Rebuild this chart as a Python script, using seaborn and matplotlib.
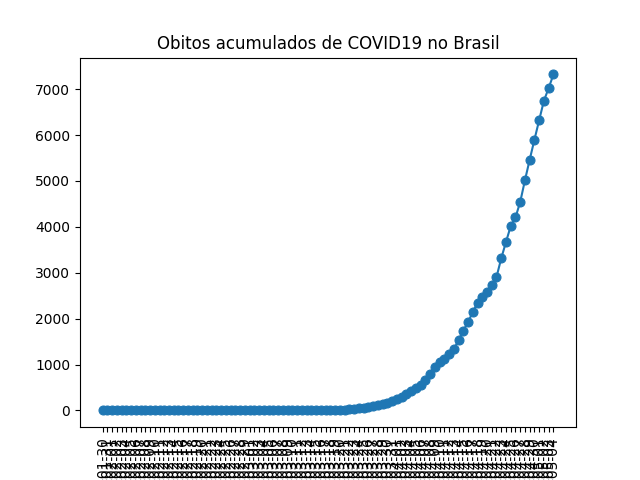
import datetime as dt

import matplotlib
matplotlib.use("Agg")
import matplotlib.pyplot as plt
import seaborn as sns

# daily dates from 2020-01-30 to 2020-05-04 (Ministerio da Saude file)
start = dt.date(2020, 1, 30)
datas = [(start + dt.timedelta(days=i)).isoformat() for i in range(96)]

# accumulated deaths; zero until 2020-03-16
zeros = [0] * 47
obitos_mar = [1, 4, 7, 11, 18, 25, 34, 46, 57, 77, 92, 111, 136, 159, 201]
obitos_abr = [240, 299, 359, 432, 486, 553, 667, 800, 941, 1056,
              1124, 1223, 1328, 1532, 1736, 1924, 2141, 2347, 2462, 2575,
              2741, 2906, 3313, 3670, 4016, 4205, 4543, 5017, 5466, 5901]
obitos_mai = [6329, 6750, 7025, 7321]
obitos = zeros + obitos_mar + obitos_abr + obitos_mai

fig = plt.figure(figsize=(6.4, 4.8), dpi=100)
ax = sns.lineplot(x=datas, y=obitos, sort=False, marker='o', markersize=6.5,
                  color='C0', markeredgecolor='C0', linewidth=1.5)
ax.set_title('Obitos acumulados de COVID19 no Brasil')
plt.xticks(rotation=90)
plt.savefig('out.png', dpi=100)
